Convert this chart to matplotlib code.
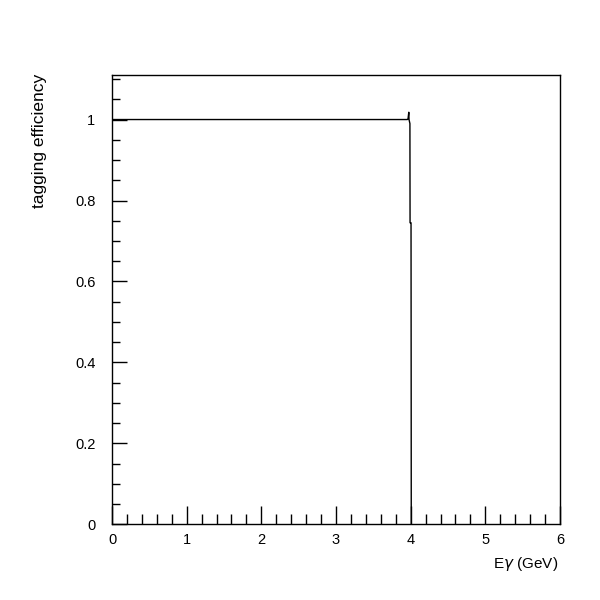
import numpy as np
import matplotlib
matplotlib.use("Agg")
import matplotlib.pyplot as plt
from matplotlib.ticker import MultipleLocator

# tagging efficiency vs photon energy
E_gamma = [0.0, 3.955, 3.965, 3.975, 3.978, 3.99, 3.992, 4.005, 4.007, 4.008]
efficiency = [1.0, 1.0, 1.002, 1.018, 1.0, 0.99, 0.745, 0.745, 0.3, 0.0]

plt.rcParams['font.family'] = ['Liberation Sans', 'DejaVu Sans']

fig = plt.figure(figsize=(6, 6), dpi=100)
ax = fig.add_axes([0.1867, 0.126, 0.7466, 0.749])

ax.plot(E_gamma, efficiency, color='black', lw=1)

ax.set_xlim(0, 6)
ax.set_ylim(0, 1.11)
ax.xaxis.set_major_locator(MultipleLocator(1))
ax.xaxis.set_minor_locator(MultipleLocator(0.2))
ax.yaxis.set_major_locator(MultipleLocator(0.2))
ax.yaxis.set_minor_locator(MultipleLocator(0.05))
ax.set_yticks([0, 0.2, 0.4, 0.6, 0.8, 1])
ax.set_yticklabels(['0', '0.2', '0.4', '0.6', '0.8', '1'])

ax.tick_params(which='both', direction='in', top=False, right=False,
               labelsize=10.5, width=1, color='black')
ax.tick_params(which='major', axis='x', length=13, pad=6)
ax.tick_params(which='minor', axis='x', length=7)
ax.tick_params(which='major', axis='y', length=11, pad=12)
ax.tick_params(which='minor', axis='y', length=6)
for s in ax.spines.values():
    s.set_linewidth(1)

ax.set_ylabel('tagging efficiency', fontsize=12.5)
ax.yaxis.set_label_coords(-0.145, 0.854)
ax.set_xlabel('E$\\gamma$ (GeV)', fontsize=11, ha='right')
ax.xaxis.set_label_coords(0.9955, -0.069)

fig.savefig('out.png', dpi=100, facecolor='white')
